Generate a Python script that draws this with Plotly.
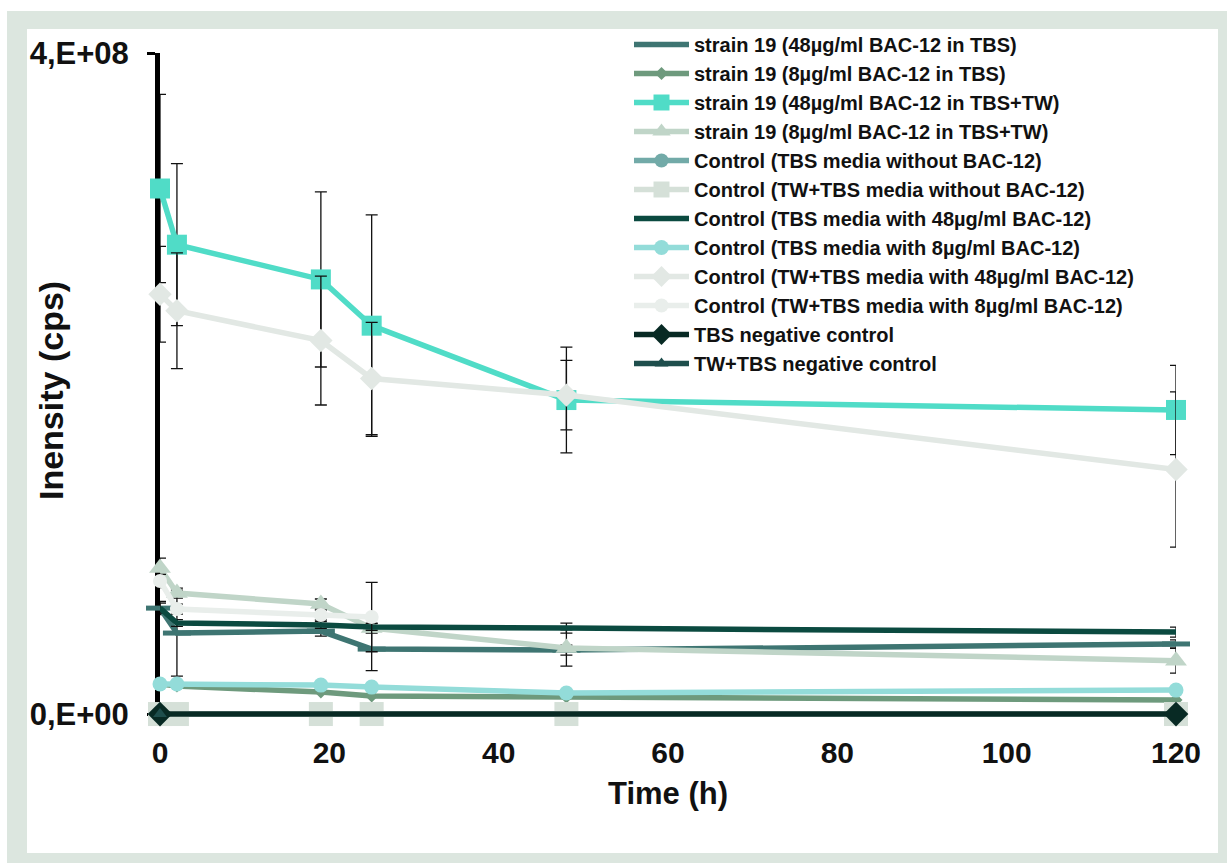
import plotly.graph_objects as go

# Sampling times (h)
hours = [0, 2, 19, 25, 48, 120]
neg_tbs_hours = [0, 120]
neg_twtbs_hours = [0]

# Mean intensities (cps)
s19_48_tbs = [6.41e7, 4.90e7, 5.02e7, 3.93e7, 3.87e7, 4.24e7]
s19_8_tbs = [1.82e7, 1.69e7, 1.33e7, 1.09e7, 1.03e7, 0.85e7]
s19_48_tbstw = [3.18e8, 2.84e8, 2.63e8, 2.35e8, 1.90e8, 1.84e8]
s19_8_tbstw = [8.84e7, 7.32e7, 6.66e7, 5.20e7, 4.00e7, 3.23e7]
ctrl_tbs_none = [0, 0, 0, 0, 0, 0]
ctrl_twtbs_none = [0, 0, 0, 0, 0, 0]
ctrl_tbs_48 = [6.41e7, 5.51e7, 5.39e7, 5.27e7, 5.20e7, 4.96e7]
ctrl_tbs_8 = [1.82e7, 1.82e7, 1.75e7, 1.63e7, 1.27e7, 1.45e7]
ctrl_twtbs_48 = [2.54e8, 2.44e8, 2.26e8, 2.03e8, 1.93e8, 1.48e8]
ctrl_twtbs_8 = [8.05e7, 6.35e7, 5.99e7, 5.87e7, None, None]
neg_tbs = [0, 0]
neg_twtbs = [0]

# Standard deviations (cps)
err_s19_48_tbs = [4e6, 2.6e7, 3e6, 1.3e7, 3e6, 2.5e6]
err_s19_8_tbstw = [6e6, 3e6, 3e6, 3e6, 1.1e7, 7.5e6]
err_s19_48_tbstw = [5.7e7, 4.9e7, 5.3e7, 6.7e7, 3.2e7, 2.7e7]
err_ctrl_tbs_48 = [3e6, 2e6, 2e6, 2e6, 3e6, 3e6]
err_ctrl_twtbs_48 = [2.9e7, 3.5e7, 3.9e7, 3.4e7, 2.1e7, 4.7e7]
err_ctrl_twtbs_8 = [4e6, 3e6, 3e6, 2.1e7, None, None]

FONT = "Liberation Sans, Arial, sans-serif"
INK = "#111111"

series = [
    ("strain 19 (48µg/ml BAC-12 in TBS)", hours, s19_48_tbs, err_s19_48_tbs,
     "#3e7572", dict(symbol="line-ew", size=20, line=dict(width=5, color="#3e7572"))),
    ("strain 19 (8µg/ml BAC-12 in TBS)", hours, s19_8_tbs, None,
     "#6e9a7d", dict(symbol="diamond", size=10)),
    ("strain 19 (48µg/ml BAC-12 in TBS+TW)", hours, s19_48_tbstw, err_s19_48_tbstw,
     "#50dcc7", dict(symbol="square", size=20)),
    ("strain 19 (8µg/ml BAC-12 in TBS+TW)", hours, s19_8_tbstw, err_s19_8_tbstw,
     "#c0d5c8", dict(symbol="triangle-up", size=19)),
    ("Control (TBS media without BAC-12)", hours, ctrl_tbs_none, None,
     "#72aaa8", dict(symbol="circle", size=14)),
    ("Control (TW+TBS media without BAC-12)", hours, ctrl_twtbs_none, None,
     "#d5e0d8", dict(symbol="square", size=24)),
    ("Control (TBS media with 48µg/ml BAC-12)", hours, ctrl_tbs_48, err_ctrl_tbs_48,
     "#0b4a40", None),
    ("Control (TBS media with 8µg/ml BAC-12)", hours, ctrl_tbs_8, None,
     "#93dcd9", dict(symbol="circle", size=15)),
    ("Control (TW+TBS media with 48µg/ml BAC-12)", hours, ctrl_twtbs_48, err_ctrl_twtbs_48,
     "#e2e8e4", dict(symbol="diamond", size=18)),
    ("Control (TW+TBS media with 8µg/ml BAC-12)", hours, ctrl_twtbs_8, err_ctrl_twtbs_8,
     "#e9eeeb", dict(symbol="circle", size=14)),
    ("TBS negative control", neg_tbs_hours, neg_tbs, None,
     "#082a24", dict(symbol="diamond", size=19)),
    ("TW+TBS negative control", neg_twtbs_hours, neg_twtbs, None,
     "#1e4e4c", dict(symbol="triangle-up", size=12)),
]

fig = go.Figure()
for name, xs, ys, err, color, marker in series:
    kw = {}
    if err is not None:
        kw["error_y"] = dict(type="data", array=err, visible=True,
                             color=INK, thickness=1.3, width=6)
    if marker is not None:
        m = dict(color=color)
        m.update(marker)
        kw["marker"] = m
        mode = "lines+markers"
    else:
        mode = "lines"
    fig.add_trace(go.Scatter(
        x=xs, y=ys, name=name, mode=mode,
        line=dict(color=color, width=5.5),
        cliponaxis=False, **kw))

# Page geometry (pixels): x=0 and x=120 columns, y=0 and y=4e8 rows
W, H = 1227, 863
X0_PX, X1_PX = 160, 1176
Y0_PX, YTOP_PX = 714, 53
Y_MAX = 4e8
# a little room below zero so the zero-level lines are not clipped
Y_MIN = -3e6
px_per_unit = (Y0_PX - YTOP_PX) / Y_MAX
L, R, T = X0_PX, W - X1_PX, YTOP_PX
B = H - (Y0_PX - Y_MIN * px_per_unit)
pw, ph = W - L - R, H - T - B


def px_x(p):
    return (p - L) / pw


def px_y(p):
    return (H - B - p) / ph


# Grey frame with a white panel inside
fig.add_shape(type="rect", xref="paper", yref="paper", layer="below",
              x0=px_x(7), x1=px_x(1240), y0=px_y(880), y1=px_y(11),
              fillcolor="#dce6df", line=dict(width=0))
fig.add_shape(type="rect", xref="paper", yref="paper", layer="below",
              x0=px_x(27), x1=px_x(1218), y0=px_y(853), y1=px_y(29),
              fillcolor="white", line=dict(width=0))

# Vertical axis title
fig.add_annotation(text="<b>Inensity (cps)</b>", xref="paper", yref="paper",
                   x=px_x(51), y=px_y(391), xanchor="center", yanchor="middle",
                   textangle=-90, showarrow=False,
                   font=dict(family=FONT, size=34, color=INK))

fig.update_layout(
    width=W, height=H,
    margin=dict(l=L, r=R, t=T, b=B, autoexpand=False),
    paper_bgcolor="white",
    plot_bgcolor="rgba(0,0,0,0)",
    font=dict(family=FONT, color=INK),
    showlegend=True,
    legend=dict(
        x=px_x(629), y=px_y(25), xanchor="left", yanchor="top",
        bgcolor="rgba(0,0,0,0)",
        font=dict(family=FONT, size=20, color=INK, weight="bold"),
        itemwidth=55, tracegroupgap=0,
    ),
    xaxis=dict(
        range=[0, 120], tickvals=[0, 20, 40, 60, 80, 100, 120],
        showline=False, showgrid=False, zeroline=False, ticks="",
        automargin=False,
        tickfont=dict(family=FONT, size=30, color=INK, weight="bold"),
        ticklabelstandoff=13,
        title=dict(text="Time (h)", standoff=14,
                   font=dict(family=FONT, size=31, color=INK, weight="bold")),
    ),
    yaxis=dict(
        range=[Y_MIN, Y_MAX], tickvals=[0, Y_MAX], ticktext=["0,E+00", "4,E+08"],
        showline=True, linecolor="black", linewidth=5,
        showgrid=False, zeroline=False, automargin=False,
        ticks="outside", ticklen=8, tickwidth=3, tickcolor="black",
        tickfont=dict(family=FONT, size=31, color=INK, weight="bold"),
        ticklabelstandoff=12,
        layer="below traces",
    ),
)

fig.write_html("out.html")
